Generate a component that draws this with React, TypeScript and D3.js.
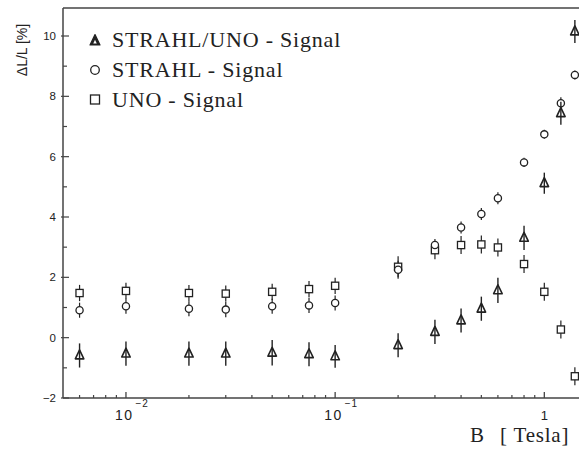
import React from "react";
import * as d3 from "d3";

const B = [0.006, 0.01, 0.02, 0.03, 0.05, 0.075, 0.1, 0.2, 0.3, 0.4, 0.5, 0.6, 0.8, 1.0, 1.2, 1.4];
const triVals = [-0.59, -0.53, -0.53, -0.53, -0.5, -0.55, -0.62, -0.25, 0.19, 0.57, 0.96, 1.57, 3.31, 5.12, 7.44, 10.15];
const triErr = [0.4, 0.4, 0.4, 0.4, 0.42, 0.4, 0.38, 0.4, 0.4, 0.4, 0.4, 0.42, 0.4, 0.35, 0.38, 0.38];
const circVals = [0.91, 1.04, 0.96, 0.93, 1.04, 1.07, 1.15, 2.25, 3.07, 3.65, 4.1, 4.62, 5.81, 6.74, 7.77, 8.71];
const circErr = [0.25, 0.25, 0.25, 0.25, 0.25, 0.25, 0.25, 0.3, 0.2, 0.2, 0.2, 0.2, 0.15, 0.15, 0.2, 0.15];
const sqVals = [1.48, 1.55, 1.48, 1.46, 1.52, 1.61, 1.72, 2.35, 2.9, 3.07, 3.09, 2.99, 2.44, 1.52, 0.27, -1.28];
const sqErr = [0.27, 0.27, 0.27, 0.27, 0.27, 0.27, 0.27, 0.35, 0.3, 0.3, 0.3, 0.3, 0.3, 0.3, 0.3, 0.3];

const yMajor = [-2, 0, 2, 4, 6, 8, 10];
const yMinor = [-1, 1, 3, 5, 7, 9];
const xMajor = [0.01, 0.1, 1];
const xMajorLabels = [["10", "\u22122"], ["10", "\u22121"], ["1", ""]];
const xMinor = [0.006, 0.007, 0.008, 0.009, 0.02, 0.03, 0.04, 0.05, 0.06, 0.07, 0.08, 0.09, 0.2, 0.3, 0.4, 0.5, 0.6, 0.7, 0.8, 0.9];
const legendLabels = ["STRAHL/UNO - Signal", "STRAHL - Signal", "UNO - Signal"];

const X0 = 63, X1 = 579, YTOP = 8, YBOT = 398;
const ink = "#222";

export default function App() {
  const x = d3.scaleLog().domain([0.005, 1.465]).range([X0, X1]);
  const y = d3.scaleLinear().domain([-2, 10]).range([YBOT, 36]);

  const tri = (cx: number, cy: number, s: number) =>
    `M${cx},${cy - s * 0.65} L${cx + s * 0.5},${cy + s * 0.4} L${cx - s * 0.5},${cy + s * 0.4} Z`;

  const sans = "'Liberation Sans', Arial, sans-serif";
  const serif = "'Liberation Serif', 'Times New Roman', serif";

  return (
    <svg width={579} height={450} style={{ position: "absolute", left: 0, top: 0, background: "#fff" }}>
      <rect x={0} y={0} width={579} height={450} fill="#fff" />
      {/* axes */}
      <line x1={X0} y1={YTOP} x2={X1} y2={YTOP} stroke="#444" strokeWidth={1.4} />
      <line x1={X0} y1={YTOP} x2={X0} y2={YBOT} stroke="#444" strokeWidth={1.5} />
      <line x1={X0} y1={YBOT} x2={X1} y2={YBOT} stroke="#444" strokeWidth={1.5} />
      {yMajor.map((v) => (
        <g key={"ym" + v}>
          <line x1={X0 - 2} x2={X0 + 6} y1={y(v)} y2={y(v)} stroke="#444" strokeWidth={1.2} />
          <text x={56} y={y(v) + 4} textAnchor="end" fontFamily={sans} fontSize={11.5} fill={ink}>
            {v < 0 ? "\u2212" + Math.abs(v) : v}
          </text>
        </g>
      ))}
      {yMinor.map((v) => (
        <line key={"yn" + v} x1={X0} x2={X0 + 4} y1={y(v)} y2={y(v)} stroke="#444" strokeWidth={1.2} />
      ))}
      {xMinor.map((v) => (
        <line key={"xn" + v} x1={x(v)} x2={x(v)} y1={YBOT} y2={YBOT - 3} stroke="#444" strokeWidth={1.2} />
      ))}
      {xMajor.map((v, i) => (
        <g key={"xm" + v}>
          <line x1={x(v)} x2={x(v)} y1={YBOT} y2={YBOT - 6} stroke="#444" strokeWidth={1.3} />
          {xMajorLabels[i][1] ? (
            <text x={x(v) - 11} y={420} fontFamily={sans} fontSize={14} letterSpacing={1.5} fill={ink}>
              {xMajorLabels[i][0]}
              <tspan dx={2} dy={-13} fontSize={10} letterSpacing={1}>{xMajorLabels[i][1]}</tspan>
            </text>
          ) : (
            <text x={x(v)} y={420} textAnchor="middle" fontFamily={sans} fontSize={13} fill={ink}>
              {xMajorLabels[i][0]}
            </text>
          )}
        </g>
      ))}
      {/* axis titles */}
      <text transform="translate(27,50) rotate(-90)" textAnchor="middle" fontFamily={sans} fontSize={14} fill={ink}>
        ΔL/L [%]
      </text>
      <text x={470} y={442} fontFamily={serif} fontSize={21} fill={ink}>B</text>
      <text x={500} y={442} fontFamily={serif} fontSize={21} letterSpacing={0.8} fill={ink}>[ Tesla]</text>

      {/* error bars squares & circles */}
      {B.map((b, i) => (
        <g key={"e" + i} stroke={ink} strokeWidth={1.2}>
          <line x1={x(b)} x2={x(b)} y1={y(sqVals[i] - sqErr[i])} y2={y(sqVals[i] + sqErr[i])} />
          <line x1={x(b)} x2={x(b)} y1={y(circVals[i] - circErr[i])} y2={y(circVals[i] + circErr[i])} />
        </g>
      ))}
      {/* squares */}
      {B.map((b, i) => (
        <rect key={"s" + i} x={x(b) - 3.6} y={y(sqVals[i]) - 3.6} width={7.2} height={7.2} fill="#fff" stroke={ink} strokeWidth={1.3} />
      ))}
      {/* circles */}
      {B.map((b, i) => (
        <circle key={"c" + i} cx={x(b)} cy={y(circVals[i])} r={3.6} fill="#fff" stroke={ink} strokeWidth={1.3} />
      ))}
      {/* triangles */}
      {B.map((b, i) => (
        <g key={"t" + i}>
          <path d={tri(x(b), y(triVals[i]), 8.5)} fill="#fff" stroke={ink} strokeWidth={1.6} strokeLinejoin="round" />
          <line x1={x(b)} x2={x(b)} y1={y(triVals[i] - triErr[i])} y2={y(triVals[i] + triErr[i])} stroke={ink} strokeWidth={1.4} />
        </g>
      ))}

      {/* legend */}
      <g>
        <path d={tri(95, 41, 10)} fill={ink} stroke={ink} strokeWidth={1.2} strokeLinejoin="round" />
        <path d={tri(95, 42, 3.5)} fill="#fff" />
        <circle cx={95} cy={70} r={4.3} fill="#fff" stroke={ink} strokeWidth={1.3} />
        <rect x={90.5} y={95} width={9} height={9} fill="#fff" stroke={ink} strokeWidth={1.3} />
        {legendLabels.map((t, i) => (
          <text key={t} x={112} y={47 + i * 30} fontFamily={serif} fontSize={22} letterSpacing={0.8} fill={ink}>
            {t}
          </text>
        ))}
      </g>
    </svg>
  );
}
